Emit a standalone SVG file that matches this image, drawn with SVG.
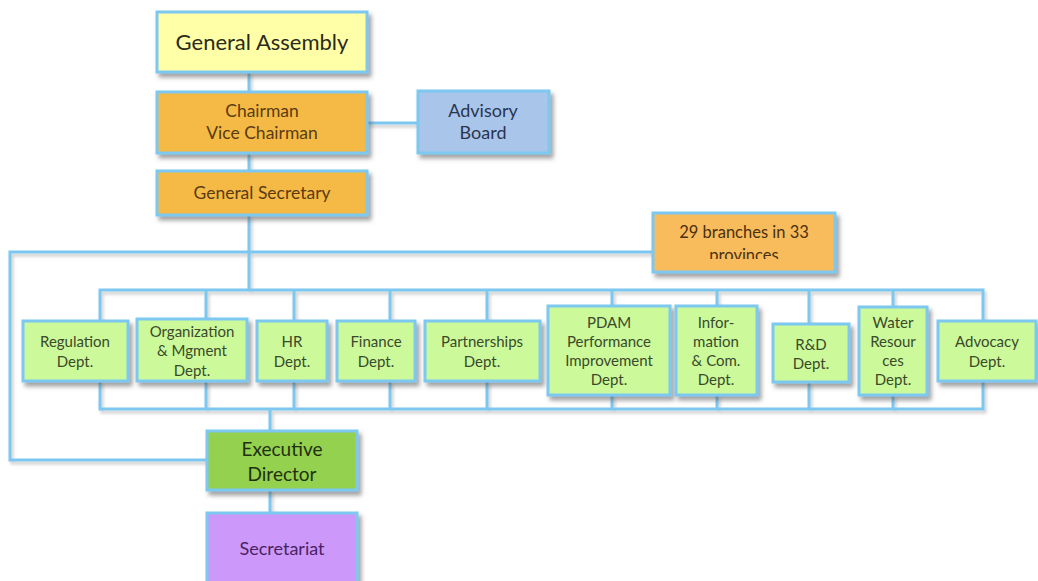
<svg xmlns="http://www.w3.org/2000/svg" width="1038" height="581" viewBox="0 0 1038 581">
<defs>
<filter id="sh" x="-10%" y="-10%" width="130%" height="140%">
<feDropShadow dx="3" dy="4" stdDeviation="2" flood-color="#555" flood-opacity="0.55"/>
</filter>
<filter id="lsh" x="-5%" y="-5%" width="110%" height="120%">
<feDropShadow dx="2" dy="3" stdDeviation="1.5" flood-color="#777" flood-opacity="0.35"/>
</filter>
<clipPath id="brclip"><rect x="653" y="213" width="182" height="46"/></clipPath>
</defs>
<style>
.box{stroke:#7DC8F0;stroke-width:3;filter:url(#sh)}
.ln{fill:none;stroke:#7DC8F0;stroke-width:3}
text{font-family:Lato,"Open Sans","Liberation Sans",sans-serif;text-anchor:middle}
.dept rect{fill:#CCF99A}
.dept text{font-size:15px;fill:#3A4A2A}
.org text{fill:#5A3A12;font-size:17.5px}
</style>
<rect width="1038" height="581" fill="#FFFFFF"/>
<g id="connectors" filter="url(#lsh)">
<path class="ln" d="M249,72 V92 M249,153 V171 M249,215 V290 M367,123 H418"/>
<path class="ln" d="M653,252 H10 V460 H207"/>
<path class="ln" d="M100,321 V290 H983 V321 M206,290 V319 M294,290 V321 M390,290 V321 M487,290 V321 M612,290 V306 M717,290 V306 M809,290 V324 M893,290 V307"/>
<path class="ln" d="M100,381 V409 H983 V381 M206,381 V409 M294,381 V409 M390,381 V409 M487,381 V409 M612,395 V409 M717,395 V409 M809,382 V409 M893,395 V409"/>
<path class="ln" d="M270,409 V431 M270,490 V513"/>
</g>
<g id="general-assembly">
<rect class="box" x="157" y="12" width="210" height="60" fill="#FFFFA8"/>
<text x="262" y="50" font-size="22" fill="#2A2A1A">General Assembly</text>
</g>
<g id="chairman" class="org">
<rect class="box" x="157" y="92" width="210" height="61" fill="#F5BA45"/>
<text x="262" y="117">Chairman</text>
<text x="262" y="139">Vice Chairman</text>
</g>
<g id="advisory-board">
<rect class="box" x="418" y="91" width="131" height="62" fill="#A9C6EA"/>
<text x="483" y="117" font-size="18" fill="#2A3550">Advisory</text>
<text x="483" y="139" font-size="18" fill="#2A3550">Board</text>
</g>
<g id="general-secretary" class="org">
<rect class="box" x="157" y="171" width="210" height="44" fill="#F5BA45"/>
<text x="262" y="199">General Secretary</text>
</g>
<g id="branches">
<rect class="box" x="653" y="213" width="182" height="59" fill="#F9BC5C"/>
<text x="744" y="238" font-size="16.5" fill="#4A3010">29 branches in 33</text>
<g clip-path="url(#brclip)"><text x="744" y="261" font-size="16.5" fill="#4A3010">provinces</text></g>
</g>
<g id="regulation" class="dept">
<rect class="box" x="23" y="321" width="105" height="60"/>
<text x="75" y="347">Regulation</text><text x="75" y="367">Dept.</text>
</g>
<g id="organization" class="dept">
<rect class="box" x="137" y="319" width="110" height="62"/>
<text x="192" y="337">Organization</text><text x="192" y="356">&amp; Mgment</text><text x="192" y="376">Dept.</text>
</g>
<g id="hr" class="dept">
<rect class="box" x="257" y="321" width="70" height="60"/>
<text x="292" y="347">HR</text><text x="292" y="367">Dept.</text>
</g>
<g id="finance" class="dept">
<rect class="box" x="337" y="321" width="78" height="60"/>
<text x="376" y="347">Finance</text><text x="376" y="367">Dept.</text>
</g>
<g id="partnerships" class="dept">
<rect class="box" x="425" y="321" width="115" height="60"/>
<text x="482" y="347">Partnerships</text><text x="482" y="367">Dept.</text>
</g>
<g id="pdam" class="dept">
<rect class="box" x="548" y="306" width="122" height="89"/>
<text x="609" y="328">PDAM</text><text x="609" y="347">Performance</text><text x="609" y="366">Improvement</text><text x="609" y="385">Dept.</text>
</g>
<g id="information" class="dept">
<rect class="box" x="676" y="306" width="81" height="89"/>
<text x="716" y="328">Infor-</text><text x="716" y="347">mation</text><text x="716" y="366">&amp; Com.</text><text x="716" y="385">Dept.</text>
</g>
<g id="rnd" class="dept">
<rect class="box" x="773" y="324" width="76" height="58"/>
<text x="811" y="350">R&amp;D</text><text x="811" y="369">Dept.</text>
</g>
<g id="water" class="dept">
<rect class="box" x="859" y="307" width="68" height="88"/>
<text x="893" y="328">Water</text><text x="893" y="347">Resour</text><text x="893" y="366">ces</text><text x="893" y="385">Dept.</text>
</g>
<g id="advocacy" class="dept">
<rect class="box" x="938" y="321" width="98" height="60"/>
<text x="987" y="347">Advocacy</text><text x="987" y="367">Dept.</text>
</g>
<g id="executive-director">
<rect class="box" x="207" y="431" width="150" height="59" fill="#93D150"/>
<text x="282" y="456" font-size="19" fill="#1F3010">Executive</text>
<text x="282" y="481" font-size="19" fill="#1F3010">Director</text>
</g>
<g id="secretariat">
<rect class="box" x="207" y="513" width="150" height="75" fill="#CC99FB"/>
<text x="282" y="555" font-size="18" fill="#4A2262">Secretariat</text>
</g>
</svg>
